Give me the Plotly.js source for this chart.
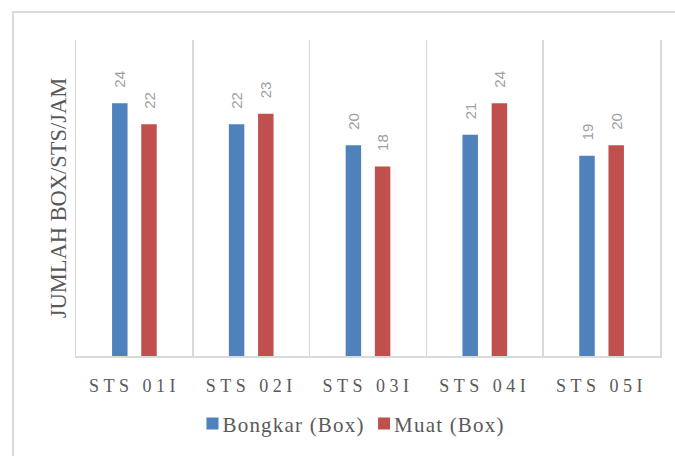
<!DOCTYPE html>
<html>
<head>
<meta charset="utf-8">
<script src="https://cdn.plot.ly/plotly-3.0.1.min.js"></script>
<style>
  html, body { margin: 0; padding: 0; background: #ffffff; overflow: hidden; }
  #frame { position: absolute; left: 12px; top: 11px; width: 700px; height: 500px; border: 2px solid #d9d9d9; box-sizing: border-box; }
  #chart { position: absolute; left: 0; top: 0; width: 675px; height: 456px; }
  #chart .xtick text { letter-spacing: 4.5px; }
  #chart .legend text, #chart text.legendtext { font-family: "Liberation Serif", "Times New Roman", serif !important; letter-spacing: 1.2px; transform: translateX(-10px); }
  #chart .legend tspan { font-family: "Liberation Serif", "Times New Roman", serif !important; }
</style>
</head>
<body>
<div id="frame"></div>
<div id="chart"></div>
<script>
const categories = ["STS 01I", "STS 02I", "STS 03I", "STS 04I", "STS 05I"];
const bongkar = [24, 22, 20, 21, 19];
const muat = [22, 23, 18, 24, 20];
const seriesNames = ["Bongkar (Box)", "Muat (Box)"];

const serif = "Liberation Serif";
const labelTpl = "\u00a0\u00a0\u00a0%{y}";
const labelFont = { family: "Liberation Sans", size: 15, color: "#a0a0a0" };

const traces = [
  {
    type: "bar", name: seriesNames[0], x: categories, y: bongkar,
    marker: { color: "#4f81bd" },
    texttemplate: labelTpl, textposition: "outside", textangle: -90, constraintext: "none",
    textfont: labelFont, cliponaxis: false, hoverinfo: "skip"
  },
  {
    type: "bar", name: seriesNames[1], x: categories, y: muat,
    marker: { color: "#c0504d" },
    texttemplate: labelTpl, textposition: "outside", textangle: -90, constraintext: "none",
    textfont: labelFont, cliponaxis: false, hoverinfo: "skip"
  }
];

const layout = {
  width: 675, height: 456,
  font: { family: serif, size: 18, color: "#595959" },
  paper_bgcolor: "rgba(0,0,0,0)", plot_bgcolor: "rgba(0,0,0,0)",
  margin: { l: 76, r: 15, t: 40, b: 98 },
  barmode: "group", bargap: 0.5, bargroupgap: 0.47,
  showlegend: true,
  legend: {
    orientation: "h", x: 0.47, xanchor: "center", y: -0.215, yanchor: "middle",
    font: { family: serif, size: 21, color: "#595959" },
    itemclick: false, itemdoubleclick: false
  },
  xaxis: {
    type: "category", tickson: "boundaries",
    showgrid: true, gridcolor: "#d9d9d9", gridwidth: 1.5,
    showline: true, linecolor: "#d9d9d9", linewidth: 1.5,
    ticks: "", ticklabelstandoff: 13,
    tickfont: { family: serif, size: 18, color: "#595959" },
    fixedrange: true
  },
  yaxis: {
    range: [0, 30], showgrid: false, zeroline: false,
    showline: true, mirror: true, linecolor: "#d9d9d9", linewidth: 1.5,
    showticklabels: false, ticks: "",
    title: { text: "JUMLAH BOX/STS/JAM", standoff: 1,
      font: { family: serif, size: 22.5, color: "#595959" } },
    fixedrange: true
  }
};

Plotly.newPlot("chart", traces, layout, { displayModeBar: false, staticPlot: true });
</script>
</body>
</html>
